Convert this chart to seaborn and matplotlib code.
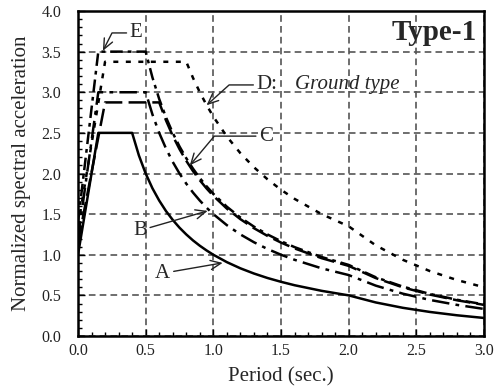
import numpy as np
import pandas as pd
import matplotlib
matplotlib.use("Agg")
import matplotlib.pyplot as plt
from matplotlib.ticker import MultipleLocator
import seaborn as sns

# period grid (sec.) shared by the five ground-type curves
PERIOD = [0.0, 0.15, 0.2, 0.3, 0.4, 0.45, 0.5, 0.55, 0.6, 0.65, 0.7, 0.75, 0.8, 0.85,
          0.9, 0.95, 1.0, 1.1, 1.2, 1.3, 1.4, 1.5, 1.6, 1.8, 2.0, 2.2, 2.4, 2.6, 2.8, 3.0]

SA_A = [1.0, 2.5, 2.5, 2.5, 2.5, 2.222, 2.0, 1.818, 1.667, 1.538, 1.429, 1.333, 1.25, 1.176,
        1.111, 1.053, 1.0, 0.909, 0.833, 0.769, 0.714, 0.667, 0.625, 0.556, 0.5, 0.413,
        0.347, 0.296, 0.255, 0.222]
SA_B = [1.2, 3.0, 3.0, 3.0, 3.0, 3.0, 3.0, 2.727, 2.5, 2.308, 2.143, 2.0, 1.875, 1.765,
        1.667, 1.579, 1.5, 1.364, 1.25, 1.154, 1.071, 1.0, 0.938, 0.833, 0.75, 0.62,
        0.521, 0.444, 0.383, 0.333]
SA_C = [1.15, 2.444, 2.875, 2.875, 2.875, 2.875, 2.875, 2.875, 2.875, 2.654, 2.464, 2.3,
        2.156, 2.029, 1.917, 1.816, 1.725, 1.568, 1.438, 1.327, 1.232, 1.15, 1.078, 0.958,
        0.863, 0.713, 0.599, 0.51, 0.44, 0.383]
SA_D = [1.35, 2.869, 3.375, 3.375, 3.375, 3.375, 3.375, 3.375, 3.375, 3.375, 3.375, 3.375,
        3.375, 3.176, 3.0, 2.842, 2.7, 2.455, 2.25, 2.077, 1.929, 1.8, 1.688, 1.5, 1.35,
        1.116, 0.938, 0.799, 0.689, 0.6]
SA_E = [1.4, 3.5, 3.5, 3.5, 3.5, 3.5, 3.5, 3.182, 2.917, 2.692, 2.5, 2.333, 2.188, 2.059,
        1.944, 1.842, 1.75, 1.591, 1.458, 1.346, 1.25, 1.167, 1.094, 0.972, 0.875, 0.723,
        0.608, 0.518, 0.446, 0.389]

GROUNDS = ["A", "B", "C", "D", "E"]

df = pd.concat([pd.DataFrame({"period": PERIOD, "sa": v, "ground": g})
                for g, v in zip(GROUNDS, [SA_A, SA_B, SA_C, SA_D, SA_E])], ignore_index=True)

sns.set_style("ticks")
plt.rcParams["font.family"] = ["Liberation Serif", "DejaVu Serif"]

fig = plt.figure(figsize=(4.98, 3.86), dpi=100)
ax = fig.add_axes([78 / 498, 50 / 386, 406 / 498, 325 / 386])

dashes = {"A": "", "B": (7, 2.5, 1.5, 2.5), "C": (7, 2.5), "D": (2, 3), "E": (5, 2, 1.5, 2)}
sns.lineplot(data=df, x="period", y="sa", hue="ground", style="ground",
             palette={g: "black" for g in GROUNDS}, dashes=dashes, linewidth=1.8,
             legend=False, ax=ax, zorder=3)

ax.set_xlim(0, 3.0)
ax.set_ylim(0, 4.0)
ax.xaxis.set_major_locator(MultipleLocator(0.5))
ax.yaxis.set_major_locator(MultipleLocator(0.5))
ax.xaxis.set_minor_locator(MultipleLocator(0.1))
ax.yaxis.set_minor_locator(MultipleLocator(0.1))
ax.xaxis.set_major_formatter(plt.FormatStrFormatter("%.1f"))
ax.yaxis.set_major_formatter(plt.FormatStrFormatter("%.1f"))
ax.tick_params(which="both", direction="in", colors="black", labelsize=11.5, labelcolor="#222")
ax.tick_params(which="major", length=5, width=1)
ax.tick_params(which="minor", length=3, width=1)
ax.tick_params(axis="y", which="major", pad=12)
ax.tick_params(axis="x", which="major", pad=5)
ax.grid(True, which="major", linestyle=(0, (4, 2.5)), color="#555555", linewidth=1.2)
for s in ax.spines.values():
    s.set_visible(True)
    s.set_linewidth(1.8)
    s.set_color("black")

ax.set_xlabel("Period (sec.)", fontsize=15)
ax.set_ylabel("Normalized spectral acceleration", fontsize=15)
ax.xaxis.set_label_coords(0.5, -0.095)
ax.yaxis.set_label_coords(-0.115, 0.5)

ax.text(2.95, 3.64, "Type-1", fontsize=21, fontweight="bold", ha="right", va="baseline")

arrow = dict(arrowstyle="->,head_length=0.5,head_width=0.22", color="#222222", lw=1.0,
             shrinkA=0, shrinkB=0)
ax.annotate("E", xy=(0.184, 3.51), xytext=(0.43, 3.73), fontsize=15, ha="center", va="center",
            arrowprops=dict(arrow, relpos=(0, 0.5), connectionstyle="angle,angleA=0,angleB=63,rad=0"))
ax.annotate("D:", xy=(0.95, 2.84), xytext=(1.32, 3.09), fontsize=15, ha="left", va="center",
            arrowprops=dict(arrow, relpos=(0, 0.5), connectionstyle="angle,angleA=0,angleB=42,rad=0"))
ax.text(1.60, 3.09, "Ground type", fontsize=15, style="italic", ha="left", va="center")
ax.annotate("C", xy=(0.826, 2.10), xytext=(1.39, 2.46), fontsize=15, ha="center", va="center",
            arrowprops=dict(arrow, relpos=(0, 0.5), connectionstyle="angle,angleA=0,angleB=50,rad=0"))
ax.annotate("B", xy=(0.958, 1.54), xytext=(0.457, 1.30), fontsize=15, ha="center", va="center",
            arrowprops=dict(arrow, relpos=(1, 0.6)))
ax.annotate("A", xy=(1.069, 0.90), xytext=(0.627, 0.765), fontsize=15, ha="center", va="center",
            arrowprops=dict(arrow, relpos=(1, 0.6)))

fig.savefig("out.png", dpi=100)
